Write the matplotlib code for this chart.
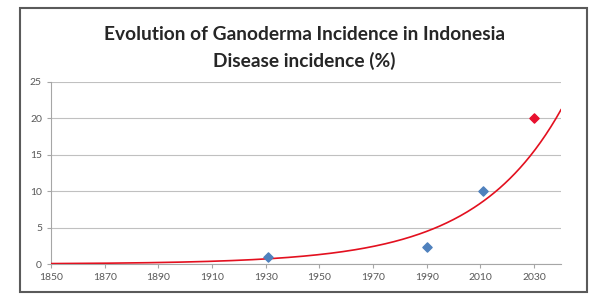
import numpy as np
import matplotlib.pyplot as plt
from matplotlib.patches import Rectangle

# observed incidence (%)
years = [1931, 1990, 2011]
incidence = [0.9, 2.4, 10.0]
# projected
proj_year = [2030]
proj_incidence = [20.0]

x_ticks = list(range(1850, 2031, 20))
y_ticks = [0, 5, 10, 15, 20, 25]

plt.rcParams['font.family'] = ['Lato', 'DejaVu Sans']

fig = plt.figure(figsize=(5.95, 2.95), dpi=100)
ax = fig.add_axes([51 / 595, 1 - 264 / 295, 510 / 595, 182 / 295])

# exponential trendline through all points
all_x = np.array(years + proj_year, dtype=float)
all_y = np.array(incidence + proj_incidence, dtype=float)
b, ln_a = np.polyfit(all_x, np.log(all_y), 1)
xx = np.linspace(1850, 2040, 300)
ax.plot(xx, np.exp(ln_a + b * xx), color='#e3101f', lw=1.2, zorder=3)

ax.scatter(years, incidence, marker='D', s=22, color='#4f81bd', zorder=4)
ax.scatter(proj_year, proj_incidence, marker='D', s=22, color='#e8102e', zorder=4)

ax.set_xlim(1850, 2040)
ax.set_ylim(0, 25)
ax.set_xticks(x_ticks)
ax.set_yticks(y_ticks)
ax.grid(axis='y', color='#c0c0c0', lw=0.8)
ax.set_axisbelow(True)
for s in ['top', 'right']:
    ax.spines[s].set_visible(False)
for s in ['left', 'bottom']:
    ax.spines[s].set_color('#a6a6a6')
    ax.spines[s].set_linewidth(0.8)
ax.tick_params(colors='#a6a6a6', labelcolor='#595959', labelsize=7.5, length=3, width=0.8)

fig.text(0.512, 1 - 34 / 295, 'Evolution of Ganoderma Incidence in Indonesia',
         ha='center', va='center', fontsize=13.8, fontweight='bold', color='#262626')
fig.text(0.512, 1 - 61 / 295, 'Disease incidence (%)',
         ha='center', va='center', fontsize=13.8, fontweight='bold', color='#262626')

# chart border
fig.patches.append(Rectangle((20 / 595, 1 - 292 / 295), 567 / 595, 284 / 295,
                             transform=fig.transFigure, fill=False,
                             edgecolor='#5a5a5a', lw=1.5))

fig.savefig('out.png', dpi=100)
